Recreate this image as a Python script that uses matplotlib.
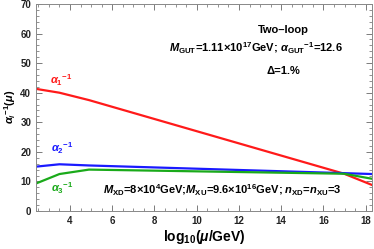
import matplotlib
matplotlib.use("Agg")
import matplotlib.pyplot as plt
from matplotlib.ticker import MultipleLocator

plt.rcParams['font.family'] = ['Liberation Sans', 'DejaVu Sans']
plt.rcParams['mathtext.fontset'] = 'custom'
plt.rcParams['mathtext.rm'] = 'Liberation Sans:bold'
plt.rcParams['mathtext.it'] = 'Liberation Sans:bold:italic'
plt.rcParams['mathtext.bf'] = 'Liberation Sans:bold'

x_pts = [2.39, 3.5, 4.9, 16.98, 18.3]
alpha1_inv = [41.3, 40.0, 37.5, 12.6, 8.8]
alpha2_inv = [15.0, 15.8, 15.4, 12.8, 12.5]
alpha3_inv = [9.3, 12.5, 14.0, 12.6, 10.9]

fig = plt.figure(figsize=(3.74, 2.49), dpi=100)
ax = fig.add_axes([36/374, 1-211/249, (372-36)/374, (211-4)/249])

ax.plot(x_pts, alpha1_inv, color='#ff1a1a', lw=1.6)
ax.plot(x_pts, alpha2_inv, color='#1a1aff', lw=1.6)
ax.plot(x_pts, alpha3_inv, color='#1aaa1a', lw=1.6)

ax.set_xlim(2.39, 18.3)
ax.set_ylim(0, 70)
ax.xaxis.set_major_locator(MultipleLocator(2))
ax.xaxis.set_minor_locator(MultipleLocator(0.5))
ax.yaxis.set_major_locator(MultipleLocator(10))
ax.yaxis.set_minor_locator(MultipleLocator(2))
ax.tick_params(which='both', direction='in', top=True, right=True,
               colors='#666666', labelcolor='#222222', labelsize=7)
ax.tick_params(which='major', length=4, width=0.6)
ax.tick_params(which='minor', length=2, width=0.5)
for lab in ax.get_xticklabels() + ax.get_yticklabels():
    lab.set_fontweight('bold')
for s in ax.spines.values():
    s.set_color('#888888')
    s.set_linewidth(0.7)

def ptext(x, y, s, **kw):
    fig.text(x/374, 1-y/249, s, **kw)

ptext(204, 237, r'$\mathbf{log_{10}(}\mathit{\mu}\mathbf{/GeV)}$', fontsize=10, ha='center', va='center')
ptext(10, 107, r'$\mathit{\alpha_i}^{\mathbf{-1}}\mathbf{(}\mathit{\mu}\mathbf{)}$', fontsize=8,
      rotation=90, ha='center', va='center')

ptext(283, 30, 'Two\u2013loop', fontsize=8, fontweight='bold', ha='center', va='center')
ptext(256, 48, r'$M_{\mathrm{GUT}}$=1.11×10$^{17}$GeV; $\alpha_{\mathrm{GUT}}$$^{-1}$=12.6',
      fontsize=8, fontweight='bold', ha='center', va='center')
ptext(283, 71, 'Δ=1.%', fontsize=8, fontweight='bold', ha='center', va='center')
ptext(222, 190, r'$M_{\mathrm{XD}}$=8×10$^{4}$GeV;$M_{\mathrm{XU}}$=9.6×10$^{16}$GeV; $n_{\mathrm{XD}}$=$n_{\mathrm{XU}}$=3',
      fontsize=8, fontweight='bold', ha='center', va='center')
ptext(50, 80, r'$\alpha_1$$^{-1}$', fontsize=8, color='#ff1a1a', ha='left', va='center')
ptext(51, 148, r'$\alpha_2$$^{-1}$', fontsize=8, color='#1a1aff', ha='left', va='center')
ptext(51, 188, r'$\alpha_3$$^{-1}$', fontsize=8, color='#1aaa1a', ha='left', va='center')

fig.savefig('out.png', dpi=100)
